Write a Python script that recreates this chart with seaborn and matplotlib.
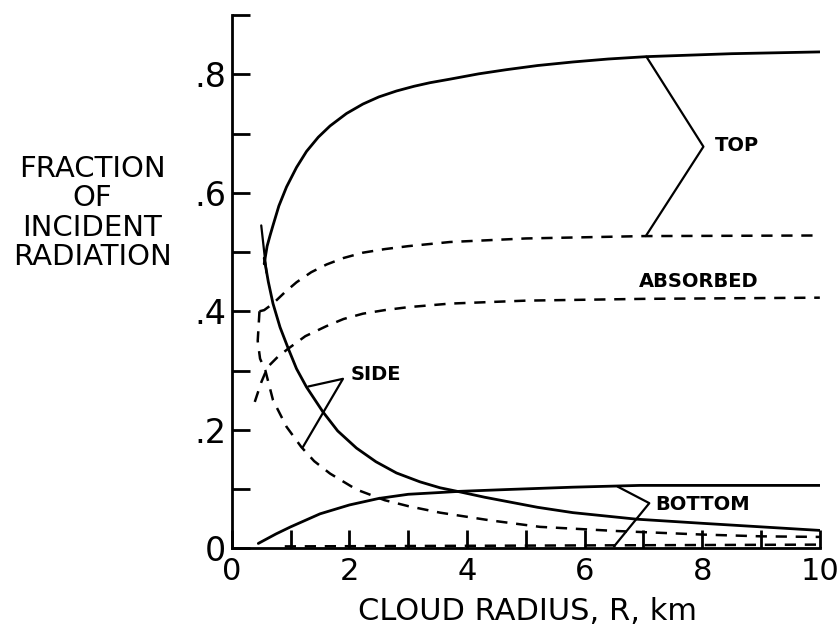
import matplotlib
matplotlib.use("Agg")
import matplotlib.pyplot as plt
import seaborn as sns
from matplotlib.ticker import FixedLocator, FixedFormatter

# curves (cloud radius in km, fraction of incident radiation)
top_x = [0.55, 0.60, 0.65, 0.70, 0.80, 0.93, 1.10, 1.27, 1.47, 1.67, 1.95, 2.23, 2.50, 2.80, 3.10, 3.37, 3.71, 4.20, 4.67, 5.20, 5.80, 6.40, 7.05, 8.50, 10.0]
top_y = [0.48, 0.51, 0.528, 0.545, 0.578, 0.61, 0.643, 0.670, 0.694, 0.713, 0.734, 0.750, 0.762, 0.772, 0.780, 0.786, 0.792, 0.801, 0.808, 0.815, 0.821, 0.826, 0.830, 0.835, 0.838]

side_x = [0.55, 0.62, 0.70, 0.82, 0.96, 1.10, 1.27, 1.55, 1.80, 2.12, 2.45, 2.80, 3.20, 3.54, 3.88, 4.30, 4.67, 5.20, 5.80, 6.88, 8.0, 9.0, 10.0]
side_y = [0.49, 0.45, 0.413, 0.373, 0.337, 0.303, 0.272, 0.23, 0.198, 0.169, 0.146, 0.127, 0.112, 0.102, 0.095, 0.086, 0.079, 0.069, 0.060, 0.049, 0.042, 0.036, 0.030]

bottom_x = [0.45, 0.75, 1.0, 1.5, 2.0, 2.5, 3.0, 3.54, 3.88, 4.67, 5.8, 6.94, 8.5, 10.0]
bottom_y = [0.008, 0.024, 0.036, 0.058, 0.073, 0.084, 0.091, 0.094, 0.096, 0.099, 0.103, 0.106, 0.106, 0.106]

abs_hi_x = [0.47, 0.55, 0.70, 0.90, 1.10, 1.35, 1.61, 1.90, 2.23, 2.60, 3.0, 3.71, 5.0, 7.0, 10.0]
abs_hi_y = [0.40, 0.402, 0.413, 0.432, 0.449, 0.466, 0.479, 0.490, 0.499, 0.505, 0.510, 0.517, 0.523, 0.527, 0.528]

abs_lo_x = [0.39, 0.50, 0.61, 0.78, 0.96, 1.25, 1.61, 1.90, 2.23, 2.60, 3.0, 3.71, 5.0, 7.0, 10.0]
abs_lo_y = [0.247, 0.28, 0.306, 0.323, 0.337, 0.358, 0.375, 0.387, 0.396, 0.402, 0.407, 0.413, 0.418, 0.421, 0.423]

side_d_x = [0.47, 0.44, 0.48, 0.57, 0.70, 0.93, 1.18, 1.40, 1.67, 2.12, 2.60, 3.0, 3.54, 4.39, 5.24, 6.54, 8.0, 9.0, 10.0]
side_d_y = [0.40, 0.35, 0.32, 0.30, 0.25, 0.205, 0.171, 0.147, 0.126, 0.099, 0.081, 0.071, 0.060, 0.047, 0.036, 0.029, 0.023, 0.020, 0.019]

bottom_d_x = [0.9, 4.0, 7.0, 10.0]
bottom_d_y = [0.003, 0.004, 0.005, 0.006]

# leader lines to the curve names
top_lead_x = [7.05, 8.02, 7.04]
top_lead_y = [0.830, 0.678, 0.527]
side_lead_x = [1.30, 1.89, 1.21]
side_lead_y = [0.273, 0.286, 0.171]
bot_lead_x = [6.56, 7.10, 6.50]
bot_lead_y = [0.104, 0.076, 0.003]
cross_x = [0.50, 0.59]
cross_y = [0.545, 0.465]

sns.set_style("ticks")
plt.rcParams['font.family'] = ['DejaVu Sans']
plt.rcParams['text.color'] = 'black'
plt.rcParams['xtick.color'] = 'black'
plt.rcParams['ytick.color'] = 'black'
plt.rcParams['xtick.labelcolor'] = 'black'
plt.rcParams['ytick.labelcolor'] = 'black'

fig = plt.figure(figsize=(8.4, 6.33), dpi=100)
ax = fig.add_axes([0.276, 0.134, 0.700, 0.842])

solid = dict(color='black', lw=2.0, sort=False, estimator=None, ax=ax)
dashed = dict(color='black', lw=1.8, sort=False, estimator=None, ax=ax, linestyle=(0, (4.5, 3.5)))

sns.lineplot(x=top_x, y=top_y, **solid)
sns.lineplot(x=side_x, y=side_y, **solid)
sns.lineplot(x=bottom_x, y=bottom_y, **solid)
sns.lineplot(x=abs_hi_x, y=abs_hi_y, **dashed)
sns.lineplot(x=abs_lo_x, y=abs_lo_y, **dashed)
sns.lineplot(x=side_d_x, y=side_d_y, **dashed)
sns.lineplot(x=bottom_d_x, y=bottom_d_y, **dashed)

for lx, ly in [(top_lead_x, top_lead_y), (side_lead_x, side_lead_y), (bot_lead_x, bot_lead_y), (cross_x, cross_y)]:
    ax.plot(lx, ly, color='black', lw=1.6)

lab = dict(fontsize=14, fontweight='semibold', va='center', ha='left', color='black')
ax.text(8.22, 0.680, 'TOP', **lab)
ax.text(2.02, 0.294, 'SIDE', **lab)
ax.text(7.20, 0.073, 'BOTTOM', **lab)
ax.text(6.92, 0.450, 'ABSORBED', **lab)

ax.set_xlim(0, 10)
ax.set_ylim(0, 0.9)
ax.xaxis.set_major_locator(FixedLocator([0, 2, 4, 6, 8, 10]))
ax.xaxis.set_minor_locator(FixedLocator([1, 3, 5, 7, 9]))
ax.yaxis.set_major_locator(FixedLocator([0, 0.2, 0.4, 0.6, 0.8]))
ax.yaxis.set_major_formatter(FixedFormatter(['0', '.2', '.4', '.6', '.8']))
ax.yaxis.set_minor_locator(FixedLocator([0.1, 0.3, 0.5, 0.7, 0.9]))
ax.tick_params(which='both', direction='in', length=13, width=2, color='black')
ax.tick_params(axis='x', labelsize=22, pad=6, labelcolor='black')
ax.tick_params(axis='y', labelsize=24, pad=4, labelcolor='black')
sns.despine(ax=ax)
for s in ['left', 'bottom']:
    ax.spines[s].set_linewidth(2)
    ax.spines[s].set_color('black')

fig.text(92 / 840, 1 - 213 / 633, 'FRACTION\nOF\nINCIDENT\nRADIATION',
         ha='center', va='center', fontsize=21, linespacing=1.05, color='black')
fig.text(528 / 840, 1 - 611 / 633, 'CLOUD RADIUS, R, km',
         ha='center', va='center', fontsize=22, color='black')

fig.savefig('out.png', dpi=100)
